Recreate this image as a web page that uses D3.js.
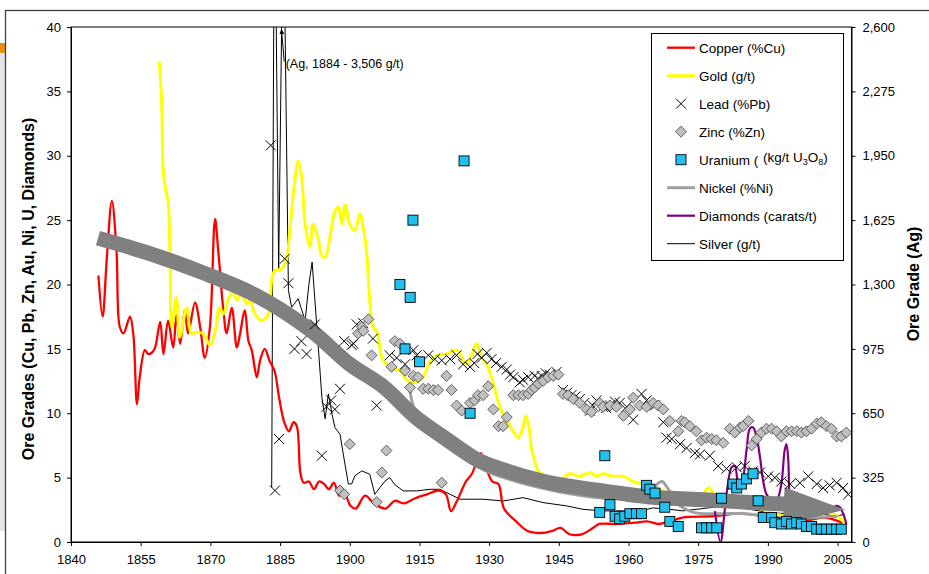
<!DOCTYPE html>
<html><head><meta charset="utf-8">
<script src="https://cdn.jsdelivr.net/npm/d3@7"></script>
<style>
body{margin:0;background:#fff;}
svg{display:block;font-family:"Liberation Sans",Arial,sans-serif;}
</style></head><body>
<svg id="chart" width="929" height="574"></svg>
<script>
// ---------- DATA ----------
const xTickLabels = [1840,1855,1870,1885,1900,1915,1930,1945,1960,1975,1990,2005];
const leftTicks = [0,5,10,15,20,25,30,35,40];
const rightTicks = [0,325,650,975,1300,1625,1950,2275,2600];

const copper = [[1845.9,20.7],[1846.8,17.5],[1847.7,22],[1848.8,26.5],[1849.8,22.6],[1850.5,16.7],[1851.3,16.2],[1852.7,17.5],[1853.4,16.2],[1854.2,10.7],[1854.8,12.8],[1855.9,14.9],[1856.6,14.6],[1857.4,14.7],[1858.1,15.1],[1859.2,17.1],[1859.9,14.6],[1860.9,17.2],[1862,15.1],[1862.7,17.6],[1863.5,15.4],[1864.5,18],[1865.2,16.2],[1866.7,18.6],[1867.8,16.7],[1868.8,14.3],[1869.9,16.7],[1871,25.1],[1871.7,22.6],[1872.8,18],[1873.5,16.2],[1874.6,18.2],[1875.7,15.1],[1876.4,16.2],[1877.4,18],[1878.2,15.6],[1878.9,14.9],[1880,12.8],[1880.7,14.1],[1881.7,15],[1882.7,14.1],[1883.8,13.3],[1884.8,11.2],[1885.9,9.3],[1886.9,8.6],[1887.9,9.3],[1888.6,9.0],[1889.4,5.3],[1890.1,4.6],[1891.2,4.7],[1892.3,4.1],[1893.4,4.7],[1894.5,4.5],[1895.5,4.1],[1896.6,4.6],[1897.7,3.6],[1898.8,3.8],[1900.2,2.8],[1901.3,2.6],[1903.3,3.6],[1905.2,3],[1907.7,2.6],[1909.7,3.2],[1911.6,3],[1914.1,3.4],[1916.6,3.7],[1919.2,4],[1920.7,3.7],[1921.8,2.4],[1923.1,3.2],[1925,4.7],[1926.3,5.3],[1928.2,6.9],[1929.4,5.7],[1930.7,4.7],[1932,4.5],[1933.2,2.6],[1935.8,1.6],[1938.3,0.85],[1941,0.7],[1943.5,0.85],[1945.4,1.1],[1947.3,0.6],[1949.9,0.6],[1952.4,1.1],[1953.7,1.4],[1957.5,1.4],[1961.4,1.5],[1964,1.6],[1966.5,1.4],[1969,1.6],[1971.6,1.9],[1978,2],[1984.4,2.2],[1990.7,1.9],[1997.1,1.6],[2002.2,1.9],[2006,1.5]];

const gold = [[1859,37.3],[1859.5,34.3],[1859.9,28.6],[1860.6,27],[1860.9,26.5],[1861.3,22.6],[1861.7,16.7],[1862.7,19],[1863.4,15.9],[1864.9,18.2],[1865.9,16.2],[1867,16.3],[1868.4,16.2],[1869.9,15.3],[1871,16.3],[1872,18.2],[1872.8,17.7],[1873.9,18.9],[1874.9,19.4],[1875.7,18.8],[1876.7,19.3],[1877.8,18.5],[1878.5,18.8],[1879.6,17.7],[1881,17.2],[1882.5,17.7],[1883.2,20.3],[1883.9,21.1],[1885.3,21.2],[1886.4,22],[1887.1,24.2],[1888,27.5],[1888.9,29.6],[1889.6,28.5],[1890.4,24.7],[1891.4,22.9],[1892.1,24.7],[1893.2,23.6],[1893.9,22.3],[1894.7,22.1],[1895.7,23.6],[1896.8,25.7],[1897.5,26],[1898.3,24.7],[1899,26.2],[1900,24.7],[1901.1,24.2],[1902.2,25.5],[1902.9,24.4],[1903.6,22.6],[1904.3,18.8],[1905,16.7],[1905.8,16.4],[1907.2,14.1],[1909.4,13.5],[1910.8,13.3],[1912.6,12.5],[1914.4,12.4],[1915.8,12.8],[1917.3,14],[1918.7,14.5],[1920.8,14.6],[1923,14.9],[1925.2,13.8],[1926.6,14.9],[1927.3,15.4],[1928.4,14.3],[1929.5,13.8],[1930.9,12.3],[1932.3,10.5],[1933.8,9.4],[1935.2,8.6],[1936.3,8.1],[1937.3,8.9],[1937.9,9.8],[1938.6,8.9],[1939.1,7.3],[1939.8,6.3],[1940.6,5.5],[1941.3,5.3],[1942.4,4.7],[1943.8,4.2],[1945.2,4.7],[1947.4,5.3],[1949.5,5.1],[1951.7,5.4],[1953.1,5.1],[1954.5,5.3],[1956.7,5.1],[1958.9,5.1],[1961,4.7],[1963.1,4.5],[1965,4.3],[1968,3.9],[1970.5,3.3],[1973,3.0],[1975.5,3.3],[1976.8,4.1],[1977.5,4.2],[1978.2,3.7],[1979,3.2],[1980,3.4],[1982.5,3.5],[1984,3.2],[1986,3.0],[1989,2.5],[1991.5,2.2],[1994,2.0],[1997,2.0],[2000,2.1],[2003,2.3],[2005,2.0],[2006.5,1.5]];

const lead = [[1883,30.8],[1883.9,4.0],[1884.8,8.0],[1886,22.0],[1886.8,20.1],[1888.1,15.0],[1889.6,15.6],[1890.7,14.6],[1892.5,16.9],[1894,6.7],[1895,10.5],[1896,11.0],[1896.8,10.3],[1897.9,11.9],[1898.8,15.6],[1900.4,15.3],[1900.8,15.4],[1901.5,16.9],[1902.9,17.0],[1905,15.8],[1905.8,10.6],[1908.6,14.5],[1910.1,14.3],[1911.9,13.8],[1913.7,14.9],[1914.4,14.5],[1916.9,14.5],[1918.3,14.2],[1919.8,14.1],[1921.6,14.2],[1923,14.5],[1924.4,13.8],[1925.9,13.6],[1926.8,13.9],[1927.5,14.6],[1928.4,14.3],[1929.5,14.7],[1930.5,14.2],[1931.5,13.9],[1932.7,13.6],[1933.8,13.4],[1934.5,13.0],[1935.2,12.8],[1936.6,12.4],[1937.3,12.6],[1938.4,12.8],[1939.8,12.9],[1940.5,12.7],[1941.3,12.9],[1942.2,13.1],[1943.1,13.0],[1944.5,13.2],[1945.9,11.8],[1946.8,11.6],[1947.7,11.4],[1948.6,11.3],[1949.5,11.1],[1950.5,10.8],[1951.7,10.2],[1952.3,10.6],[1953.1,11.0],[1954.5,10.5],[1955.2,10.4],[1956,10.6],[1957.1,10.9],[1958.1,10.8],[1959.6,10.5],[1961,9.5],[1962.8,11.5],[1963.9,11.0],[1965.7,10.6],[1967.5,9.3],[1968.2,8.1],[1969.3,8.0],[1971.1,7.6],[1972.5,7.3],[1974.3,6.9],[1975.4,6.8],[1977.5,6.7],[1979.3,5.9],[1981.1,5.7],[1983.3,5.8],[1985,5.9],[1986.8,5.5],[1988.3,5.4],[1990.1,5.1],[1991.5,5.0],[1992.9,4.7],[1994.8,4.5],[1996.9,4.6],[1998.7,5.1],[2000.5,4.5],[2001.9,4.2],[2003.3,4.4],[2004.8,4.6],[2006.2,4.2],[2007.3,3.7]];

const zinc = [[1897.9,4.0],[1898.8,3.7],[1900,7.6],[1901.8,16.2],[1902.6,16.7],[1902.9,16.4],[1904,17.3],[1904.7,14.5],[1905.8,3.1],[1906.9,5.4],[1907.9,7.1],[1909,13.6],[1909.7,15.6],[1910.8,15.4],[1911.9,13.3],[1913,12.0],[1913.7,12.9],[1914.7,12.8],[1915.8,11.9],[1916.9,11.9],[1918,11.8],[1919,11.8],[1919.8,4.6],[1920.8,12.9],[1921.9,11.8],[1923,10.6],[1924.1,10.2],[1925.9,10.8],[1926.9,11.0],[1927.6,11.4],[1928.7,11.4],[1929.8,12.1],[1930.9,10.3],[1932,9.0],[1933,9.0],[1933.8,9.7],[1935.2,11.4],[1936.3,11.4],[1937.3,11.4],[1938.4,11.5],[1939.1,11.8],[1939.8,12.0],[1940.6,12.3],[1941.6,12.5],[1942.7,12.8],[1943.8,12.9],[1944.9,13.0],[1945.9,11.5],[1947,11.4],[1948.1,11.1],[1949.5,10.8],[1951,10.3],[1952,10.1],[1953.8,10.8],[1954.5,10.5],[1956,10.6],[1957.4,10.5],[1958.9,9.8],[1960.3,10.3],[1961,11.2],[1962.4,10.6],[1963.9,10.5],[1965.3,10.8],[1966.4,10.6],[1967.5,10.3],[1968.9,9.4],[1970.7,8.6],[1971.4,9.4],[1972.1,9.3],[1973.2,9.0],[1974.6,8.6],[1975.7,7.9],[1976.8,8.1],[1977.9,8.0],[1978.9,7.9],[1980.4,7.7],[1981.8,8.8],[1982.9,8.5],[1984,8.9],[1984.7,9.0],[1985.8,9.4],[1986.5,7.5],[1987.6,8.0],[1988.6,8.5],[1989.7,8.8],[1990.8,8.8],[1991.9,8.6],[1992.9,8.2],[1994,8.6],[1995.1,8.6],[1996.2,8.6],[1997.2,8.5],[1998.3,8.6],[1999.4,8.8],[2000.5,9.2],[2001.5,9.3],[2002.6,9.0],[2003.7,8.8],[2004.8,8.2],[2005.8,8.2],[2006.9,8.5]];

const uranium = [[1910.8,20.0],[1911.9,15.0],[1913,19.0],[1913.6,25.0],[1915,14.0],[1924.6,29.6],[1925.9,10.0],[1953.8,2.3],[1954.9,6.7],[1956,2.9],[1957.1,2.0],[1958.1,1.8],[1959.2,2.0],[1960.3,2.2],[1961.7,2.2],[1962.8,2.2],[1963.9,4.4],[1964.6,4.1],[1965.7,3.8],[1967.8,2.7],[1968.9,1.6],[1970.7,1.2],[1975.7,1.1],[1976.8,1.1],[1977.9,1.1],[1979,1.1],[1980,3.4],[1982.5,4.5],[1983.3,4.2],[1984.3,4.5],[1985.4,4.9],[1986.8,5.3],[1987.9,3.2],[1989,1.9],[1990.8,1.9],[1991.5,1.5],[1992.9,1.4],[1994,1.6],[1995.1,1.4],[1996.2,1.5],[1997.2,1.4],[1998.3,1.2],[1999.4,1.2],[2000.5,1.0],[2001.5,1.0],[2002.6,1.0],[2003.7,1.0],[2004.8,1.0],[2005.8,1.0]];

const nickel = [[1912.8,12.1],[1914,10.1],[1916,8.8],[1920,7.6],[1925,6.4],[1930,5.4],[1935,4.8],[1940,4.3],[1945,3.9],[1950,3.6],[1955,3.4],[1960,3.4],[1964,3.6],[1966.5,4.6],[1967.3,4.7],[1968.2,4.3],[1969.3,3.7],[1970.5,3.0],[1972,2.6],[1974,2.3],[1976,2.2],[1980,2.2],[1985,2.2],[1990,2.0],[1995,1.8],[2000,1.9],[2005,2.0]];

const diamonds = [[1978.6,2.4],[1979.8,0],[1980.7,2.4],[1981.4,4.5],[1982.2,5.8],[1982.9,5.9],[1983.6,4.7],[1984.3,4.6],[1985.4,7.1],[1986.1,8.8],[1986.8,8.9],[1987.6,8.1],[1988.3,6.6],[1989,4.7],[1989.7,3.7],[1990.4,3.4],[1991.8,3.2],[1992.9,4.5],[1993.6,7.1],[1994,7.6],[1994.4,6.3],[1994.7,3.4],[1995.4,2.2],[1996.9,1.9],[1999,2.1],[2001.1,2.4],[2003.3,2.5],[2004.8,2.8],[2005.5,2.7],[2006.2,2.2],[2006.9,1.4]];

// silver in g/t (right axis)
const silver = [[1883.2,275],[1883.8,3506],[1884.7,1380],[1885.7,3300],[1886.8,1270],[1887.5,1185],[1888.9,1228],[1890.4,1118],[1891.2,1300],[1891.9,1413],[1892.9,1093],[1894,730],[1894.7,622],[1895.4,748],[1896.2,645],[1896.8,578],[1897.9,544],[1898.6,445],[1899.7,293],[1900.4,293],[1901.1,334],[1902.6,359],[1904.3,342],[1905.4,241],[1906.5,275],[1907.6,308],[1908.6,325],[1909.7,290],[1911.5,258],[1914.4,258],[1917.3,266],[1919.4,266],[1921.6,241],[1923.7,216],[1928.7,216],[1933,207],[1937.3,224],[1941.6,199],[1946.7,182],[1950.2,165],[1954.5,157],[1958.9,157],[1962.7,157],[1965.2,172],[1969,165],[1971.6,157],[1975.4,167],[1980.5,182],[1985.6,167],[1990.7,147],[1995.8,142],[2001,142],[2004.8,131],[2006.5,140]];

// trend arrow (left-axis units)
const trendPath = [[1845.8,23.6],[1857,22.4],[1867.8,21.0],[1879.6,19.2],[1891.4,16.5],[1900,13.8],[1907.1,12.1],[1914.5,9.6],[1921.6,7.8],[1927.4,6.4],[1932.3,5.7],[1943.1,4.6],[1953.8,4.0],[1964.6,3.5],[1975.4,3.3],[1989.8,3.0],[1993.6,2.95]];
const trendHead = [[1993.6,4.25],[2006.6,2.5],[1993.2,1.3]];

const legendItems = ["Copper (%Cu)","Gold (g/t)","Lead (%Pb)","Zinc (%Zn)","Uranium (","Nickel (%Ni)","Diamonds (carats/t)","Silver (g/t)"];

// ---------- CHART ----------
const FONT = "Liberation Sans, Arial, sans-serif";
const svg = d3.select("#chart");
const L = 71, R = 851.5, T = 27, B = 542;
const x = d3.scaleLinear().domain([1840,2008]).range([L,R]);
const y = d3.scaleLinear().domain([0,40]).range([B,T]);
const y2 = d3.scaleLinear().domain([0,2600]).range([B,T]);

// frame & decorations
svg.append("rect").attr("x",0).attr("y",53).attr("width",5).attr("height",478).attr("fill","#e4e4e4");
svg.append("rect").attr("x",0).attr("y",43).attr("width",5).attr("height",10).attr("fill","#e69012");
svg.append("rect").attr("x",5.5).attr("y",10.5).attr("width",960).attr("height",600)
  .attr("fill","none").attr("stroke","#404040").attr("stroke-width",1.3);

svg.append("defs").append("clipPath").attr("id","plotclip")
  .append("rect").attr("x",L).attr("y",T).attr("width",R-L).attr("height",B-T);

svg.append("rect").attr("x",L).attr("y",T).attr("width",R-L).attr("height",B-T)
  .attr("fill","none").attr("stroke","#000").attr("stroke-width",1);

const plot = svg.append("g").attr("clip-path","url(#plotclip)");
const curve = d3.curveCatmullRom.alpha(0.5);
const line = d3.line().x(d=>x(d[0])).y(d=>y(d[1])).curve(curve);
const line2 = d3.line().x(d=>x(d[0])).y(d=>y2(d[1])).curve(d3.curveLinear);

plot.append("path").attr("d",line2(silver)).attr("fill","none").attr("stroke","#000").attr("stroke-width",1);
plot.append("path").attr("d",line(copper)).attr("fill","none").attr("stroke","#ff0000").attr("stroke-width",2.3).attr("stroke-linejoin","round");
plot.append("path").attr("d",line(gold)).attr("fill","none").attr("stroke","#ffff00").attr("stroke-width",3).attr("stroke-linejoin","round");
plot.append("path").attr("d",line(nickel)).attr("fill","none").attr("stroke","#a0a0a0").attr("stroke-width",3);
plot.append("path").attr("d",line(diamonds)).attr("fill","none").attr("stroke","#800080").attr("stroke-width",2.2);

// trend arrow
plot.append("path").attr("d",line(trendPath)).attr("fill","none").attr("stroke","#808080").attr("stroke-width",15);
plot.append("path").attr("d",d3.line().x(d=>x(d[0])).y(d=>y(d[1]))(trendHead)+"Z").attr("fill","#808080");

// markers
const crossPath = s => `M${-s},${-s}L${s},${s}M${-s},${s}L${s},${-s}`;
const diamondPath = s => `M0,${-s}L${s},0L0,${s}L${-s},0Z`;
plot.selectAll(".pb").data(lead).join("path").attr("class","pb")
  .attr("transform",d=>`translate(${x(d[0])},${y(d[1])})`)
  .attr("d",crossPath(5)).attr("stroke","#000").attr("stroke-width",1).attr("fill","none");
plot.selectAll(".zn").data(zinc).join("path").attr("class","zn")
  .attr("transform",d=>`translate(${x(d[0])},${y(d[1])})`)
  .attr("d",diamondPath(5.5)).attr("fill","#c0c0c0").attr("stroke","#404040").attr("stroke-width",0.8);
plot.selectAll(".u").data(uranium).join("rect").attr("class","u")
  .attr("x",d=>x(d[0])-5).attr("y",d=>y(d[1])-5).attr("width",10).attr("height",10)
  .attr("fill","#22c0ee").attr("stroke","#000").attr("stroke-width",0.9);

// axes
const fs = "13px";
const gL = svg.append("g").attr("transform",`translate(${L},0)`);
gL.call(d3.axisLeft(y).tickValues(d3.range(0,41,1)).tickSize(4).tickFormat("").tickSizeOuter(0));
gL.call(d3.axisLeft(y).tickValues(leftTicks).tickSize(4).tickPadding(6).tickSizeOuter(0));

const gR = svg.append("g").attr("transform",`translate(${R},0)`);
gR.call(d3.axisRight(y2).tickValues(d3.range(0,2601,65)).tickSize(4).tickFormat("").tickSizeOuter(0));
gR.call(d3.axisRight(y2).tickValues(rightTicks).tickSize(4).tickPadding(7).tickFormat(d3.format(",")).tickSizeOuter(0));

const gB = svg.append("g").attr("transform",`translate(0,${B})`);
gB.call(d3.axisBottom(x).tickValues(d3.range(1840,2009,3)).tickSize(4).tickFormat("").tickSizeOuter(0));
gB.call(d3.axisBottom(x).tickValues(xTickLabels).tickSize(4).tickPadding(9).tickFormat(d3.format("d")).tickSizeOuter(0));
svg.selectAll(".tick text").style("font-size",fs).style("font-family",FONT).attr("fill","#000");
svg.selectAll(".domain").attr("stroke","#000");

// axis titles
svg.append("text").attr("transform","translate(34,289) rotate(-90)").attr("text-anchor","middle")
  .style("font-size","16px").style("font-weight","bold").text("Ore Grades (Cu, Pb, Zn, Au, Ni, U, Diamonds)");
svg.append("text").attr("transform","translate(919,284) rotate(-90)").attr("text-anchor","middle")
  .style("font-size","16px").style("font-weight","bold").text("Ore Grade (Ag)");

// annotation
svg.append("defs").append("marker").attr("id","ah").attr("viewBox","0 0 10 10").attr("refX",9).attr("refY",5)
  .attr("markerWidth",5).attr("markerHeight",7).attr("orient","auto")
  .append("path").attr("d","M0,0L10,5L0,10Z").attr("fill","#000");
svg.append("line").attr("x1",x(1885.9)).attr("y1",y(37.3)).attr("x2",x(1885.3)).attr("y2",y(39.8))
  .attr("stroke","#000").attr("stroke-width",1).attr("marker-end","url(#ah)");
svg.append("text").attr("x",x(1886.2)).attr("y",y(36.8)).style("font-size","12.5px").text("(Ag, 1884 - 3,506 g/t)");

// legend
const lg = svg.append("g");
lg.append("rect").attr("x",651.5).attr("y",33.5).attr("width",192).attr("height",227).attr("fill","#fff").attr("stroke","#000");
const rowY = i => 47.7 + 28*i;
const sampleLine = (yy,col,w) => lg.append("line").attr("x1",667).attr("x2",695).attr("y1",yy).attr("y2",yy).attr("stroke",col).attr("stroke-width",w);
legendItems.forEach((t,i)=>{
  const yy = rowY(i);
  if (i===0) sampleLine(yy,"#ff0000",2.3);
  if (i===1) sampleLine(yy,"#ffff00",3);
  if (i===2) lg.append("path").attr("transform",`translate(681,${yy})`).attr("d",crossPath(5)).attr("stroke","#000");
  if (i===3) lg.append("path").attr("transform",`translate(681,${yy})`).attr("d",diamondPath(5.5)).attr("fill","#c0c0c0").attr("stroke","#404040").attr("stroke-width",0.8);
  if (i===4) lg.append("rect").attr("x",676).attr("y",yy-5).attr("width",10).attr("height",10).attr("fill","#22c0ee").attr("stroke","#000").attr("stroke-width",0.9);
  if (i===5) sampleLine(yy,"#a0a0a0",3);
  if (i===6) sampleLine(yy,"#800080",2.2);
  if (i===7) sampleLine(yy,"#000",1);
  lg.append("text").attr("x",699).attr("y",yy+4.8).style("font-size","13.5px").text(t);
});
const ut = lg.append("text").attr("x",763).attr("y",rowY(4)+2).style("font-size","13.5px");
ut.append("tspan").text("(kg/t U");
ut.append("tspan").attr("dy",3).style("font-size","9px").text("3");
ut.append("tspan").attr("dy",-3).text("O");
ut.append("tspan").attr("dy",3).style("font-size","9px").text("8");
ut.append("tspan").attr("dy",-3).text(")");
</script>
</body></html>
